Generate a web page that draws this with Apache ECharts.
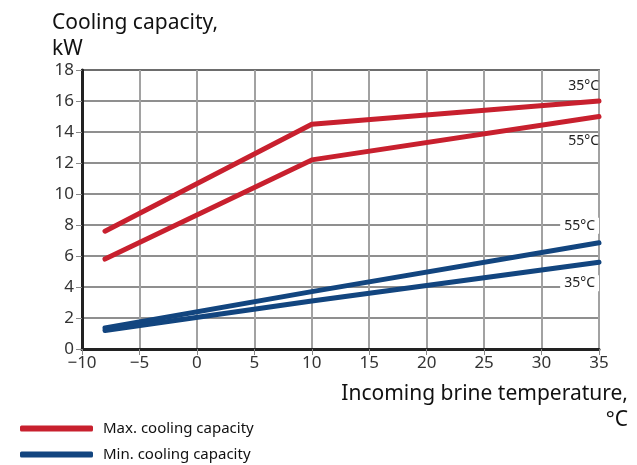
<!DOCTYPE html>
<html>
<head>
<meta charset="utf-8">
<script src="https://cdn.jsdelivr.net/npm/echarts@6/dist/echarts.min.js"></script>
<style>
  html, body { margin: 0; padding: 0; background: #fff; }
  #chart { width: 637px; height: 465px; }
</style>
</head>
<body>
<div id="chart"></div>
<script>
// brine temperature (°C) where the curves are read
const temps = [-8, 10, 35];
// max. cooling capacity, kW
const max35 = [7.6, 14.5, 16.0];
const max55 = [5.8, 12.2, 15.0];
// min. cooling capacity, kW
const min55 = [1.35, 3.7, 6.85];
const min35 = [1.2, 3.1, 5.6];

const RED = "#c8202e";
const BLUE = "#12457f";
const FONT = "Noto Sans";

function pairs(ys) {
    return temps.map(function (t, i) { return [t, ys[i]]; });
}

function line(name, color, ys, label, dy, bg) {
    return {
        name: name,
        type: "line",
        data: pairs(ys),
        symbol: "none",
        lineStyle: { color: color, width: 5, cap: "round", join: "round" },
        itemStyle: { color: color },
        endLabel: {
            show: true,
            formatter: label,
            align: "right",
            offset: [-8, dy],
            color: "#222",
            fontFamily: FONT,
            fontSize: 14,
            backgroundColor: bg ? "#fff" : "transparent",
            padding: bg ? [1, 4] : 0
        },
        animation: false,
        z: 3
    };
}

function legendStyle(top, name) {
    return {
        orient: "horizontal",
        left: 15,
        top: top,
        itemWidth: 73,
        itemHeight: 6,
        icon: "roundRect",
        textStyle: { fontFamily: FONT, fontSize: 15, color: "#111", padding: [0, 0, 0, 5] },
        data: [name]
    };
}

const chart = echarts.init(document.getElementById("chart"));
const option = {
    textStyle: { fontFamily: FONT },
    title: {
        text: "Cooling capacity,\nkW",
        left: 47,
        top: 5,
        textStyle: { fontFamily: FONT, fontSize: 21, fontWeight: "normal", color: "#111", lineHeight: 26 }
    },
    graphic: [
        {
            type: "text", right: 9, top: 384,
            style: { text: "Incoming brine temperature,", fontFamily: FONT, fontSize: 21, fill: "#111" }
        },
        {
            type: "text", right: 9, top: 410,
            style: { text: "°C", fontFamily: FONT, fontSize: 21, fill: "#111" }
        }
    ],
    legend: [
        legendStyle(416, "Max. cooling capacity"),
        legendStyle(442, "Min. cooling capacity")
    ],
    grid: {
        left: 82, right: 38, top: 70, bottom: 116,
        show: true, borderColor: "#777", borderWidth: 2
    },
    xAxis: {
        type: "value",
        min: -10, max: 35, interval: 5,
        axisLine: { show: true, onZero: false, lineStyle: { color: "#222", width: 3 } },
        axisTick: { show: true, length: 6, lineStyle: { color: "#888" } },
        axisLabel: {
            margin: 6, fontSize: 17, color: "#333", fontFamily: FONT,
            formatter: function (v) { return String(v).replace("-", "\u2212"); }
        },
        splitLine: { show: true, lineStyle: { color: "#a2a2a2", width: 2 } }
    },
    yAxis: {
        type: "value",
        min: 0, max: 18, interval: 2,
        axisLine: { show: true, onZero: false, lineStyle: { color: "#222", width: 3 } },
        axisTick: { show: true, length: 6, lineStyle: { color: "#888" } },
        axisLabel: { margin: 8, fontSize: 17, color: "#333", fontFamily: FONT },
        splitLine: { show: true, lineStyle: { color: "#6a6a6a", width: 1.5 } }
    },
    series: [
        line("Max. cooling capacity", RED, max35, "35°C", -15, false),
        line("Max. cooling capacity", RED, max55, "55°C", 25, false),
        line("Min. cooling capacity", BLUE, min55, "55°C", -17, true),
        line("Min. cooling capacity", BLUE, min35, "35°C", 21, true)
    ]
};
chart.setOption(option);
</script>
</body>
</html>
